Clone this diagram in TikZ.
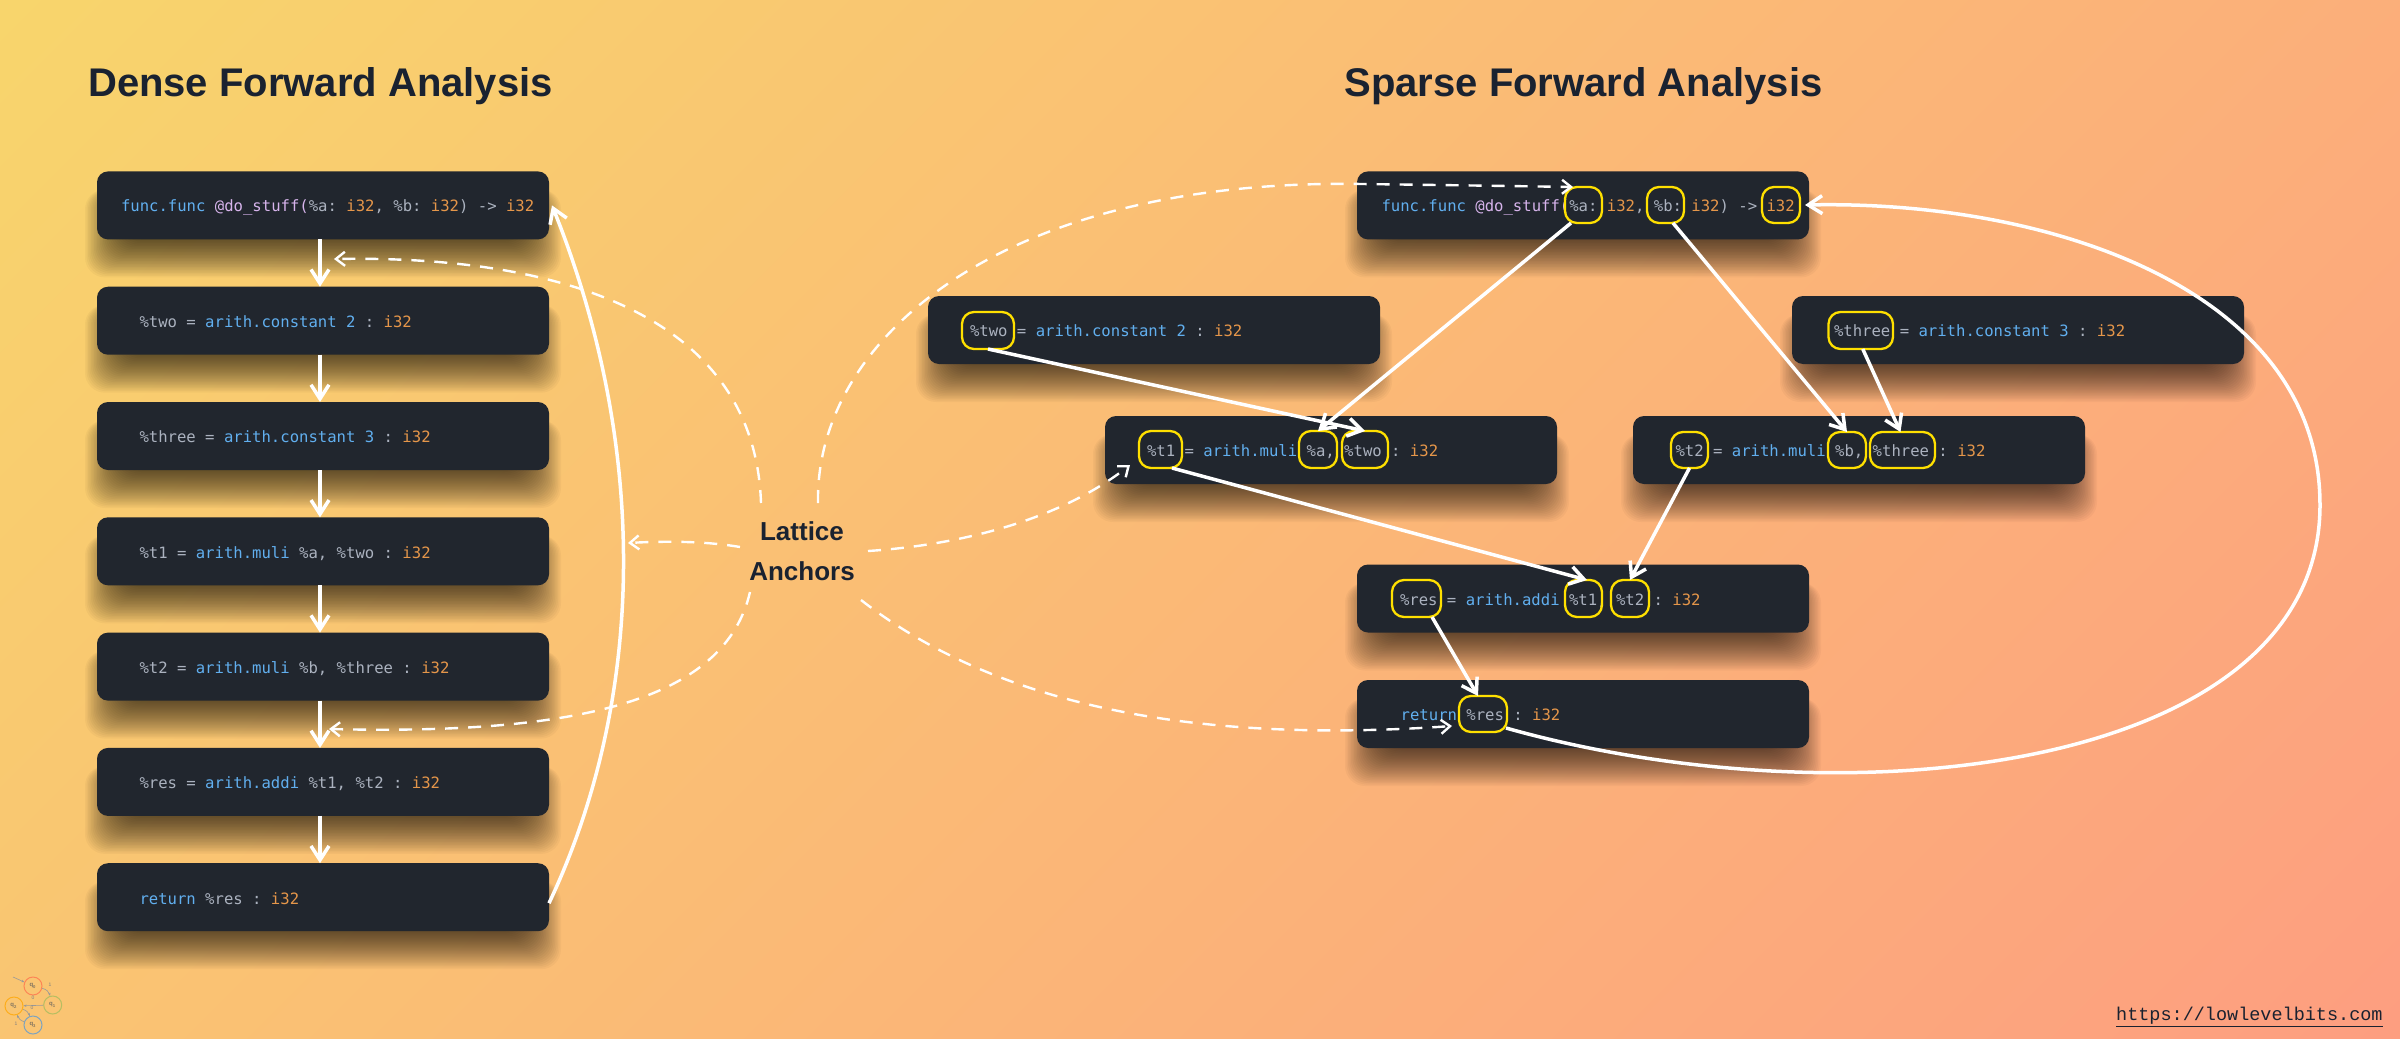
\documentclass[tikz,border=0pt]{standalone}
\usepackage{fontspec}
\setmainfont{Liberation Sans}
\setmonofont{DejaVu Sans Mono}
\newfontfamily\urlfont{Liberation Mono}
\usetikzlibrary{arrows.meta,calc}
\definecolor{bgA}{HTML}{F8D56C}
\definecolor{bgB}{HTML}{FD9E80}
\definecolor{boxfill}{HTML}{21262E}
\definecolor{cvar}{HTML}{ABB2BF}
\definecolor{ckw}{HTML}{61AFEF}
\definecolor{cty}{HTML}{E5964A}
\definecolor{cfn}{HTML}{D7B4EC}
\definecolor{ttl}{HTML}{1A2230}
\definecolor{hl}{HTML}{FFE000}
\newcommand{\cv}[1]{\textcolor{cvar}{#1}}
\newcommand{\cb}[1]{\textcolor{ckw}{#1}}
\newcommand{\cty}[1]{\textcolor{cty}{#1}}
\newcommand{\cf}[1]{\textcolor{cfn}{#1}}
\newcommand{\shadowrect}[2]{%
  \foreach \e in {22,20.5,...,-22}{
    \fill[black,fill opacity=0.03,rounded corners=10pt]
      (#1+10-\e,#2+18) rectangle (#1+442+\e,#2+84+\e);
  }}
\newcommand{\hlbox}[5]{%
  \pgfmathsetlengthmacro{\hw}{(#4-#2)*0.5pt}%
  \pgfmathsetlengthmacro{\hh}{(#5-#3)*0.5pt}%
  \node[hlnode,minimum width=\hw,minimum height=\hh] (#1) at ({(#2+#4)/2},{(#3+#5)/2}) {};}
\tikzset{
  x=0.5pt,y=-0.5pt,
  codebox/.style={rectangle,rounded corners=5.5pt,fill=boxfill,anchor=north west,
    minimum width=226pt,minimum height=34pt,inner sep=0pt,outer sep=0pt},
  codetext/.style={anchor=base west,inner sep=0pt,outer sep=0pt,
    font=\ttfamily\fontsize{7.8pt}{9pt}\selectfont,text=cvar},
  hlnode/.style={rectangle,rounded corners=6pt,draw=hl,line width=1.15pt,inner sep=0pt,outer sep=0pt},
  heading/.style={font=\fontsize{20pt}{24pt}\selectfont\bfseries,text=ttl,inner sep=0pt},
  flow/.style={draw=white,line width=1.75pt,-{Straight Barb[length=7pt,width=9pt]}},
  anchorline/.style={draw=white,line width=1.2pt,dash pattern=on 6.5pt off 5pt,
    -{Straight Barb[length=4.5pt,width=7pt]}},
  logoring/.style={circle,draw,line width=0.5pt,minimum size=9pt,inner sep=0pt,
    font=\fontsize{3pt}{4pt}\selectfont\bfseries,text=black!65},
  logoedge/.style={draw=black!40,line width=0.3pt,-{Stealth[length=1.5pt,width=1.2pt]}},
  logotext/.style={font=\fontsize{2.5pt}{3pt}\selectfont,text=black!50,inner sep=0pt},
}
\begin{document}
\begin{tikzpicture}
\useasboundingbox (0,0) rectangle (2400,1039);
\begin{scope}
  \clip (0,0) rectangle (2400,1039);
  \shade[left color=bgA,right color=bgB,shading angle=45] (-16,-696.5) rectangle (2416,1735.5);
\end{scope}
% shadows
\foreach \a/\b in {97/171.4,97/286.7,97/402,97/517.3,97/632.6,97/747.9,97/863.2,
  1357/171.4,928/296,1792/296,1105/416,1633/416,1357/564.5,1357/680}{
  \shadowrect{\a}{\b}
}
% dense boxes
\node[codebox] (d1) at (97,171.4) {};
\node[codebox] (d2) at (97,286.7) {};
\node[codebox] (d3) at (97,402) {};
\node[codebox] (d4) at (97,517.3) {};
\node[codebox] (d5) at (97,632.6) {};
\node[codebox] (d6) at (97,747.9) {};
\node[codebox] (d7) at (97,863.2) {};
% sparse boxes
\node[codebox] (s1) at (1357,171.4) {};
\node[codebox] (s2) at (928,296) {};
\node[codebox] (s3) at (1792,296) {};
\node[codebox] (s4) at (1105,416) {};
\node[codebox] (s5) at (1633,416) {};
\node[codebox] (s6) at (1357,564.5) {};
\node[codebox] (s7) at (1357,680) {};
% titles
\node[heading] (t1) at (320.5,86) {Dense Forward Analysis};
\node[heading] (t2) at (1583.5,86) {Sparse Forward Analysis};
% dense code
\node[codetext] (dt1) at (121,211) {\cb{func.func} \cf{@do\_stuff(}\cv{\%a:} \cty{i32}\cv{,} \cv{\%b:} \cty{i32}\cv{) ->} \cty{i32}};
\node[codetext] (dt2) at (139.5,327.5) {\cv{\%two =} \cb{arith.constant 2} \cv{:} \cty{i32}};
\node[codetext] (dt3) at (139.5,442.8) {\cv{\%three =} \cb{arith.constant 3} \cv{:} \cty{i32}};
\node[codetext] (dt4) at (139.5,558.1) {\cv{\%t1 =} \cb{arith.muli} \cv{\%a, \%two :} \cty{i32}};
\node[codetext] (dt5) at (139.5,673.4) {\cv{\%t2 =} \cb{arith.muli} \cv{\%b, \%three :} \cty{i32}};
\node[codetext] (dt6) at (139.5,788.7) {\cv{\%res =} \cb{arith.addi} \cv{\%t1, \%t2 :} \cty{i32}};
\node[codetext] (dt7) at (139.5,904) {\cb{return} \cv{\%res :} \cty{i32}};
% sparse code
\node[codetext] (st1) at (1381.5,211) {\cb{func.func} \cf{@do\_stuff(}\cv{\%a:} \cty{i32}\cv{,} \cv{\%b:} \cty{i32}\cv{) ->} \cty{i32}};
\node[codetext] (st2) at (970,336.5) {\cv{\%two =} \cb{arith.constant 2} \cv{:} \cty{i32}};
\node[codetext] (st3) at (1834,336.5) {\cv{\%three =} \cb{arith.constant 3} \cv{:} \cty{i32}};
\node[codetext] (st4) at (1147,456.5) {\cv{\%t1 =} \cb{arith.muli} \cv{\%a, \%two :} \cty{i32}};
\node[codetext] (st5) at (1675.5,456.5) {\cv{\%t2 =} \cb{arith.muli} \cv{\%b, \%three :} \cty{i32}};
\node[codetext] (st6) at (1400,605) {\cv{\%res =} \cb{arith.addi} \cv{\%t1, \%t2 :} \cty{i32}};
\node[codetext] (st7) at (1400.7,720.5) {\cb{return} \cv{\%res :} \cty{i32}};
% highlight boxes
\hlbox{ya}{1565}{187}{1602}{223}
\hlbox{yb}{1647}{187}{1684}{223}
\hlbox{yi}{1762}{187}{1800}{223}
\hlbox{ytwo}{962}{312}{1014}{349}
\hlbox{ythree}{1828.5}{312}{1893}{349}
\hlbox{yto}{1139}{431}{1182}{468}
\hlbox{yam}{1299}{431}{1337}{468}
\hlbox{ytwom}{1342}{431}{1388}{468}
\hlbox{yt}{1671}{432}{1708}{468}
\hlbox{ybm}{1828}{432}{1866}{468}
\hlbox{ythreem}{1870}{432}{1935}{468}
\hlbox{yres}{1392}{580}{1441}{617}
\hlbox{ytor}{1565}{580}{1602}{617}
\hlbox{ytr}{1611}{580}{1649}{617}
\hlbox{yret}{1459}{696}{1507}{732}
% dense flow
\draw[flow] ([xshift=-1.5pt]d1.south) -- ([xshift=-1.5pt]d2.north);
\draw[flow] ([xshift=-1.5pt]d2.south) -- ([xshift=-1.5pt]d3.north);
\draw[flow] ([xshift=-1.5pt]d3.south) -- ([xshift=-1.5pt]d4.north);
\draw[flow] ([xshift=-1.5pt]d4.south) -- ([xshift=-1.5pt]d5.north);
\draw[flow] ([xshift=-1.5pt]d5.south) -- ([xshift=-1.5pt]d6.north);
\draw[flow] ([xshift=-1.5pt]d6.south) -- ([xshift=-1.5pt]d7.north);
\draw[flow] ([yshift=-3pt]d7.east) .. controls (645,700) and (650,450) .. ([xshift=1.5pt]d1.east);
% sparse flow
\draw[flow] ([xshift=-6.25pt]ya.south) -- (yam.north);
\draw[flow] ([xshift=3.75pt]yb.south) -- (ybm.north);
\draw[flow] (ytwo.south) -- (ytwom.north);
\draw[flow] ([xshift=1pt]ythree.south) -- ([xshift=-1pt]ythreem.north);
\draw[flow] ([xshift=5.75pt]yto.south) -- ([xshift=1.75pt]ytor.north);
\draw[flow] (yt.south) -- (ytr.north);
\draw[flow] ([xshift=7.75pt]yres.south) -- ([xshift=-2.5pt]yret.north);
\draw[flow] ([xshift=-0.5pt,yshift=2pt]yret.south east) .. controls (1850,825) and (2320,770) .. (2320,505)
  .. controls (2320,290) and (2050,200) .. ([xshift=2.5pt]yi.east);
% lattice anchors
\node[font=\fontsize{13pt}{20pt}\selectfont\bfseries,text=ttl,align=center,inner sep=0pt] (la) at (802,551) {Lattice\\Anchors};
\coordinate (la1) at (761,503);
\coordinate (la2) at (740,547);
\coordinate (la3) at (750,592);
\coordinate (la4) at (818,503);
\coordinate (la5) at (868,551);
\coordinate (la6) at (861,600);
\coordinate (anA) at (334,259);
\coordinate (anB) at (628,543);
\coordinate (anC) at (329,729);
\draw[anchorline] (la1) .. controls (755,320) and (570,255) .. (anA);
\draw[anchorline] (la2) .. controls (705,541) and (665,541) .. (anB);
\draw[anchorline] (la3) .. controls (725,700) and (580,735) .. (anC);
\draw[anchorline] (la4) .. controls (815,340) and (1000,178) .. (1362,184)
  .. controls (1440,185) and (1510,186) .. ([xshift=4pt]ya.north west);
\draw[anchorline] (la5) .. controls (960,545) and (1060,520) .. ([xshift=-4.5pt,yshift=1.5pt]yto.south west);
\draw[anchorline] (la6) .. controls (990,700) and (1180,745) .. ([xshift=-3.5pt,yshift=-6pt]yret.west);
% url
\node[anchor=base east,inner sep=0pt,text=ttl,font=\urlfont\fontsize{9.25pt}{11pt}\selectfont] (url) at (2383,1020) {\underline{https://lowlevelbits.com}};
% logo
\node[logoring,draw=red!60!orange!70,opacity=0.75] (q0) at (33,986) {q\textsubscript{0}};
\node[logoring,draw=yellow!60!green!60!gray,opacity=0.75] (q1) at (52.7,1005) {q\textsubscript{1}};
\node[logoring,draw=orange!70!yellow,opacity=0.75] (q2) at (14,1006) {q\textsubscript{2}};
\node[logoring,draw=cyan!60!blue!70,opacity=0.75] (q3) at (33,1025) {q\textsubscript{3}};
\coordinate (qs) at (13,977);
\draw[logoedge] (qs) -- (q0);
\draw[logoedge] (q0) to[bend left=30] (q1);
\draw[logoedge] (q1) -- (q2);
\draw[logoedge] (q2) to[bend left=25] (q3);
\draw[logoedge] (q3) to[bend left=25] (q2);
\node[logotext] (l1) at (50,985) {1};
\node[logotext] (l2) at (33,998) {0};
\node[logotext] (l3) at (32,1008) {0};
\node[logotext] (l4) at (16,1024) {1};
\end{tikzpicture}
\end{document}
